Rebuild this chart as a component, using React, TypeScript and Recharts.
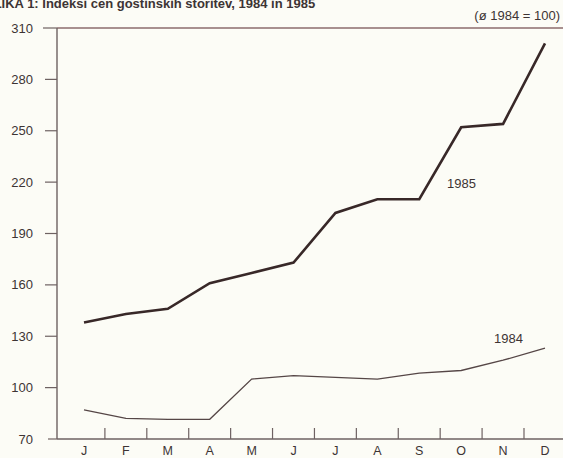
import { Line, LineChart, ReferenceLine, XAxis, YAxis } from "recharts";

const months = ["J", "F", "M", "A", "M", "J", "J", "A", "S", "O", "N", "D"];
const index1985 = [138, 143, 146, 161, 167, 173, 202, 210, 210, 252, 254, 301];
const index1984 = [87, 82, 81.5, 81.5, 105, 107, 106, 105, 108.5, 110, 116, 123];
const yTicks = [70, 100, 130, 160, 190, 220, 250, 280, 310];

const data = months.map((m, i) => ({
  m,
  y1985: index1985[i],
  y1984: index1984[i],
}));

const ink = "#3d3434";
const axisColor = "#6e6262";
const font = "'Liberation Sans', Arial, sans-serif";

const MonthTick = (props: any) => {
  const { x, y, payload, index } = props;
  return (
    <g>
      <text x={x} y={y + 16} textAnchor="middle" fill={ink} fontSize={12.5} fontFamily={font}>
        {payload.value}
      </text>
      {index < months.length - 1 && (
        <line x1={x + 20.9} x2={x + 20.9} y1={y - 11} y2={y} stroke={axisColor} strokeWidth={1.2} />
      )}
    </g>
  );
};

const ValueTick = (props: any) => {
  const { x, y, payload } = props;
  const start = payload.value === 310 ? 43 : payload.value === 70 ? 48 : 45;
  return (
    <g>
      <line x1={start} x2={x} y1={y} y2={y} stroke={axisColor} strokeWidth={1.2} />
      <text x={33} y={y} dy="0.35em" textAnchor="end" fill={ink} fontSize={13} fontFamily={font}>
        {payload.value}
      </text>
    </g>
  );
};

const App = () => {
  return (
    <div
      style={{
        position: "absolute",
        top: 0,
        left: 0,
        width: 563,
        height: 458,
        background: "#fcfcf6",
        overflow: "hidden",
        fontFamily: font,
      }}
    >
      <div
        style={{
          position: "absolute",
          left: -15,
          top: -4,
          fontSize: 13,
          fontWeight: "bold",
          color: ink,
          whiteSpace: "nowrap",
        }}
      >
        SLIKA 1: Indeksi cen gostinskih storitev, 1984 in 1985
      </div>
      <div style={{ position: "absolute", right: 3, top: 8, fontSize: 13, color: ink }}>
        (ø 1984 = 100)
      </div>
      <div style={{ position: "absolute", left: 447, top: 176, fontSize: 13, color: ink }}>1985</div>
      <div style={{ position: "absolute", left: 494, top: 331, fontSize: 13, color: ink }}>1984</div>
      <LineChart
        width={563}
        height={458}
        data={data}
        margin={{ top: 28, right: 0, bottom: 0, left: 0 }}
      >
        <XAxis
          dataKey="m"
          interval={0}
          padding={{ left: 27, right: 18 }}
          height={19}
          tickSize={0}
          tickMargin={0}
          tickLine={false}
          axisLine={{ stroke: axisColor, strokeWidth: 1.4 }}
          tick={MonthTick}
        />
        <YAxis
          domain={[70, 310]}
          ticks={yTicks}
          width={57}
          tickSize={0}
          tickMargin={0}
          tickLine={false}
          axisLine={{ stroke: axisColor, strokeWidth: 1.4 }}
          tick={ValueTick}
        />
        <ReferenceLine y={310} stroke="#8c6c6c" strokeWidth={1.6} />
        <Line
          type="linear"
          dataKey="y1985"
          stroke="#382828"
          strokeWidth={2.6}
          dot={false}
          isAnimationActive={false}
        />
        <Line
          type="linear"
          dataKey="y1984"
          stroke="#554646"
          strokeWidth={1.3}
          dot={false}
          isAnimationActive={false}
        />
      </LineChart>
    </div>
  );
};

export default App;
